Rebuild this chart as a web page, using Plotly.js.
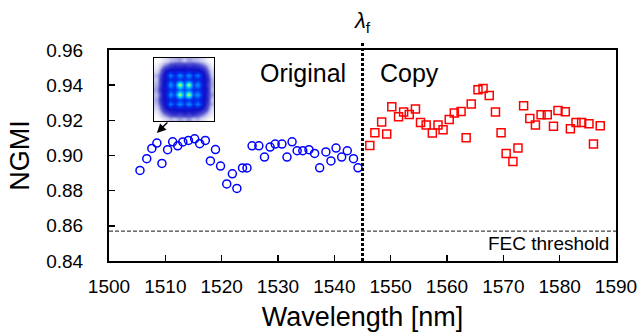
<!DOCTYPE html>
<html>
<head>
<meta charset="utf-8">
<script src="https://cdn.plot.ly/plotly-3.0.1.min.js"></script>
<style>html,body{margin:0;padding:0;background:#fff;}#chart{width:639px;height:335px;}</style>
</head>
<body>
<div id="chart"></div>
<script>
// Original (blue circles)
const origWavelength = [1505.5,1506.7,1507.6,1508.5,1509.4,1510.4,1511.3,1512.2,1513.1,1514.1,1515.2,1516.1,1517.1,1518.0,1518.9,1519.8,1520.9,1521.9,1522.7,1523.7,1524.5,1525.4,1526.6,1527.6,1528.6,1529.5,1530.7,1531.6,1532.5,1533.4,1534.4,1535.5,1536.5,1537.4,1538.5,1539.4,1540.3,1541.3,1542.3,1543.4,1544.2];
const origNGMI = [0.8915,0.8982,0.9040,0.9071,0.8955,0.9033,0.9078,0.9055,0.9077,0.9086,0.9095,0.9067,0.9086,0.8969,0.9034,0.8940,0.8838,0.8896,0.8813,0.8929,0.8929,0.9055,0.9055,0.8991,0.9048,0.9065,0.9065,0.8991,0.9078,0.9027,0.9027,0.9033,0.9012,0.8930,0.9020,0.8969,0.9042,0.8991,0.9027,0.8982,0.8930];
// Copy (red squares)
const copyWavelength = [1546.3,1547.2,1548.4,1549.3,1550.2,1551.4,1552.3,1553.3,1554.4,1555.3,1556.3,1557.4,1558.4,1559.3,1560.4,1561.3,1562.5,1563.4,1564.3,1565.5,1566.4,1567.5,1568.6,1569.6,1570.5,1571.7,1572.6,1573.6,1574.7,1575.7,1576.7,1577.8,1578.9,1579.7,1581.0,1581.9,1582.9,1583.9,1585.2,1586.0,1587.2];
const copyNGMI = [0.9057,0.9129,0.9190,0.9122,0.9277,0.9220,0.9247,0.9233,0.9264,0.9188,0.9173,0.9128,0.9173,0.9146,0.9205,0.9241,0.9250,0.9101,0.9293,0.9374,0.9381,0.9341,0.9247,0.9129,0.9012,0.8966,0.9042,0.9283,0.9211,0.9173,0.9232,0.9232,0.9167,0.9256,0.9249,0.9152,0.9188,0.9188,0.9181,0.9065,0.9169];
const fecThreshold = 0.857;
const lambdaF = 1545;
const xTicks = [1500,1510,1520,1530,1540,1550,1560,1570,1580,1590];
const yTicks = [0.84,0.86,0.88,0.90,0.92,0.94,0.96];
// Inset constellation intensity (16QAM), hand-read
const constellation = [
 [0,0.02,0.06,0.10,0.08,0.12,0.09,0.13,0.08,0.10,0.05,0.02,0],
 [0.02,0.10,0.17,0.22,0.26,0.22,0.27,0.23,0.26,0.21,0.16,0.09,0.03],
 [0.06,0.17,0.28,0.33,0.30,0.35,0.31,0.34,0.31,0.33,0.27,0.18,0.05],
 [0.09,0.22,0.33,0.56,0.40,0.60,0.42,0.60,0.39,0.57,0.34,0.21,0.10],
 [0.11,0.26,0.31,0.40,0.36,0.44,0.40,0.43,0.37,0.41,0.31,0.25,0.08],
 [0.09,0.23,0.35,0.60,0.44,0.93,0.52,0.95,0.45,0.61,0.35,0.24,0.12],
 [0.12,0.27,0.32,0.42,0.40,0.52,0.46,0.51,0.40,0.42,0.33,0.26,0.09],
 [0.10,0.24,0.35,0.61,0.43,0.95,0.51,0.92,0.44,0.60,0.34,0.23,0.11],
 [0.08,0.25,0.31,0.41,0.37,0.43,0.40,0.44,0.36,0.40,0.32,0.26,0.10],
 [0.10,0.21,0.34,0.57,0.39,0.60,0.41,0.59,0.40,0.56,0.33,0.22,0.08],
 [0.05,0.17,0.29,0.33,0.31,0.34,0.32,0.35,0.30,0.33,0.28,0.17,0.06],
 [0.02,0.09,0.16,0.21,0.25,0.23,0.26,0.22,0.25,0.22,0.17,0.10,0.02],
 [0,0.02,0.05,0.09,0.10,0.12,0.08,0.12,0.10,0.09,0.06,0.02,0]
];

const FONT = 'Arial, "Liberation Sans", sans-serif';

const traces = [
  {x: origWavelength, y: origNGMI, type: 'scatter', mode: 'markers', name: 'Original',
   marker: {symbol: 'circle-open', size: 8, color: '#0000ff', line: {width: 1.5, color: '#0000ff'}},
   hoverinfo: 'x+y'},
  {x: copyWavelength, y: copyNGMI, type: 'scatter', mode: 'markers', name: 'Copy',
   marker: {symbol: 'square-open', size: 8, color: '#ff0000', line: {width: 1.5, color: '#ff0000'}},
   hoverinfo: 'x+y'},
  {z: constellation, type: 'heatmap', xaxis: 'x2', yaxis: 'y2', showscale: false, zsmooth: 'best',
   zmin: 0, zmax: 1, hoverinfo: 'skip',
   colorscale: [[0,'#ffffff'],[0.08,'#c8c8ee'],[0.18,'#5050d0'],[0.3,'#1010c8'],[0.42,'#0030f0'],[0.55,'#0080ff'],[0.68,'#00c8ff'],[0.82,'#70ff90'],[1,'#ffff00']]}
];

const layout = {
  width: 639, height: 335,
  margin: {l: 109, r: 23, t: 50, b: 74},
  paper_bgcolor: '#ffffff', plot_bgcolor: '#ffffff',
  showlegend: false,
  font: {family: FONT, color: '#000', size: 19},
  xaxis: {
    range: [1500, 1590], tickvals: xTicks, ticktext: xTicks.map(String),
    ticks: 'inside', ticklen: 6, tickwidth: 1.5, tickcolor: '#000',
    showline: true, linewidth: 2, linecolor: '#000', mirror: true,
    showgrid: false, zeroline: false,
    tickfont: {size: 19, family: FONT}, ticklabelstandoff: 7,
    title: {text: 'Wavelength [nm]', font: {size: 27, family: FONT}, standoff: 11}
  },
  yaxis: {
    range: [0.84, 0.96], tickvals: yTicks, ticktext: yTicks.map(v => v.toFixed(2)),
    ticks: 'inside', ticklen: 6, tickwidth: 1.5, tickcolor: '#000',
    showline: true, linewidth: 2, linecolor: '#000', mirror: true,
    showgrid: false, zeroline: false,
    tickfont: {size: 19, family: FONT}, ticklabelstandoff: 20,
    title: {text: 'NGMI', font: {size: 27, family: FONT}, standoff: 9}
  },
  xaxis2: {domain: [0.089, 0.207], anchor: 'y2', range: [-0.5, 12.5], showticklabels: false, ticks: '',
           showgrid: false, zeroline: false, showline: true, mirror: true, linecolor: '#000', linewidth: 1.5, fixedrange: true},
  yaxis2: {domain: [0.664, 0.962], anchor: 'x2', range: [-0.5, 12.5], showticklabels: false, ticks: '',
           showgrid: false, zeroline: false, showline: true, mirror: true, linecolor: '#000', linewidth: 1.5, fixedrange: true},
  shapes: [
    {type: 'line', xref: 'x', yref: 'paper', x0: lambdaF, x1: lambdaF, y0: 0, y1: 1.04,
     line: {color: '#000', width: 3, dash: '3px,2px'}},
    {type: 'line', xref: 'paper', yref: 'y', x0: 0, x1: 1, y0: fecThreshold, y1: fecThreshold,
     line: {color: '#444', width: 1.3, dash: '4px,2px'}}
  ],
  annotations: [
    {xref: 'paper', yref: 'paper', x: 0.383, y: 0.891, text: 'Original', showarrow: false,
     font: {size: 25, family: FONT}, xanchor: 'center', yanchor: 'middle'},
    {xref: 'paper', yref: 'paper', x: 0.592, y: 0.891, text: 'Copy', showarrow: false,
     font: {size: 25, family: FONT}, xanchor: 'center', yanchor: 'middle'},
    {xref: 'paper', yref: 'paper', x: 0.99, y: 0.082, text: 'FEC threshold', showarrow: false,
     font: {size: 19, family: FONT}, xanchor: 'right', yanchor: 'middle'},
    {xref: 'x', yref: 'paper', x: lambdaF, y: 1.135, text: '<i>λ</i><sub>f</sub>', showarrow: false,
     font: {size: 22, family: FONT}, xanchor: 'center', yanchor: 'middle'},
    {xref: 'x', yref: 'y', x: 1508.5, y: 0.9128, ax: 12, ay: -12, text: '', showarrow: true,
     arrowhead: 2, arrowsize: 1.2, arrowwidth: 1.5, arrowcolor: '#000'}
  ]
};

Plotly.newPlot('chart', traces, layout, {displayModeBar: false, staticPlot: true});
</script>
</body>
</html>
